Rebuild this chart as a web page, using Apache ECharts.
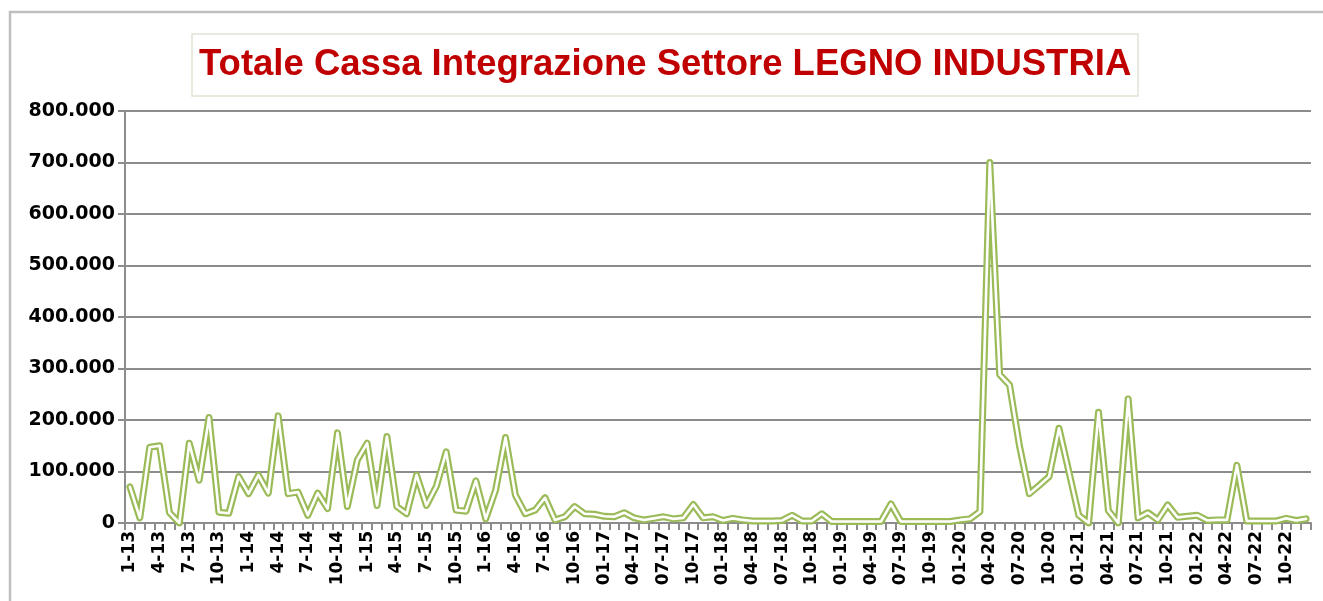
<!DOCTYPE html>
<html>
<head>
<meta charset="utf-8">
<script src="https://cdn.jsdelivr.net/npm/echarts@6/dist/echarts.min.js"></script>
<style>
html,body{margin:0;padding:0;background:#fff;}
#chart{width:1323px;height:601px;}
</style>
</head>
<body>
<div id="chart"></div>
<script>
const titleText = 'Totale Cassa Integrazione Settore LEGNO INDUSTRIA';

const categories = [
  '1-13','2-13','3-13','4-13','5-13','6-13','7-13','8-13','9-13','10-13','11-13','12-13',
  '1-14','2-14','3-14','4-14','5-14','6-14','7-14','8-14','9-14','10-14','11-14','12-14',
  '1-15','2-15','3-15','4-15','5-15','6-15','7-15','8-15','9-15','10-15','11-15','12-15',
  '1-16','2-16','3-16','4-16','5-16','6-16','7-16','8-16','9-16','10-16','11-16','12-16',
  '01-17','02-17','03-17','04-17','05-17','06-17','07-17','08-17','09-17','10-17','11-17','12-17',
  '01-18','02-18','03-18','04-18','05-18','06-18','07-18','08-18','09-18','10-18','11-18','12-18',
  '01-19','02-19','03-19','04-19','05-19','06-19','07-19','08-19','09-19','10-19','11-19','12-19',
  '01-20','02-20','03-20','04-20','05-20','06-20','07-20','08-20','09-20','10-20','11-20','12-20',
  '01-21','02-21','03-21','04-21','05-21','06-21','07-21','08-21','09-21','10-21','11-21','12-21',
  '01-22','02-22','03-22','04-22','05-22','06-22','07-22','08-22','09-22','10-22','11-22','12-22'
];

const values = [
  70000, 10000, 147000, 150000, 20000, 0, 155000, 83000, 205000, 21000, 19000, 90000,
  57000, 93000, 58000, 208000, 57000, 60000, 15000, 58000, 28000, 175000, 32000, 122000,
  155000, 34000, 168000, 32000, 18000, 93000, 34000, 71000, 138000, 25000, 23000, 82000,
  8000, 64000, 166000, 54000, 18000, 25000, 49000, 6000, 12000, 32000, 18000, 17000,
  13000, 12000, 20000, 10000, 6000, 9000, 12000, 8000, 10000, 36000, 10000, 12000,
  5000, 9000, 6000, 4000, 4000, 4000, 5000, 15000, 4000, 4000, 18000, 3000,
  3000, 3000, 3000, 3000, 3000, 37000, 3000, 3000, 3000, 3000, 3000, 3000,
  6000, 8000, 22000, 700000, 288000, 268000, 150000, 57000, 73000, 90000, 184000, 100000,
  15000, 0, 215000, 24000, 0, 241000, 10000, 20000, 6000, 35000, 11000, 13000,
  15000, 5000, 6000, 6000, 112000, 4000, 4000, 4000, 4000, 9000, 5000, 8000
];

const yMin = 0, yMax = 800000, yStep = 100000;

function fmtThousands(v) {
  return String(v).replace(/\B(?=(\d{3})+(?!\d))/g, '.');
}

const chart = echarts.init(document.getElementById('chart'));
chart.setOption({
  animation: false,
  backgroundColor: '#ffffff',
  graphic: [{
    type: 'rect', z: -10, silent: true,
    shape: { x: 10, y: 12, width: 1400, height: 700 },
    style: { fill: 'none', stroke: '#bfbfbf', lineWidth: 2.5 }
  }],
  title: {
    text: titleText,
    left: 192, top: 34,
    padding: [8, 7],
    borderColor: '#e2e2d6', borderWidth: 1.5,
    backgroundColor: '#ffffff',
    textStyle: {
      fontFamily: 'Liberation Sans', fontWeight: 'bold', fontSize: 36.5,
      color: '#C00000', lineHeight: 46
    }
  },
  grid: { left: 125, right: 12, top: 111, bottom: 78, containLabel: false },
  xAxis: {
    type: 'category',
    data: categories,
    boundaryGap: true,
    axisLine: { show: true, lineStyle: { color: '#8c8c8c', width: 2 } },
    axisTick: { show: true, interval: 0, length: 7, lineStyle: { color: '#8c8c8c', width: 2 } },
    axisLabel: {
      interval: 2, rotate: 90, margin: 8,
      fontFamily: 'DejaVu Sans', fontWeight: 'bold', fontSize: 17, color: '#000'
    },
    splitLine: { show: false }
  },
  yAxis: {
    type: 'value',
    min: yMin, max: yMax, interval: yStep,
    axisLine: { show: true, lineStyle: { color: '#8c8c8c', width: 2 } },
    axisTick: { show: true, length: 7, lineStyle: { color: '#8c8c8c', width: 2 } },
    axisLabel: {
      margin: 10, formatter: fmtThousands,
      fontFamily: 'DejaVu Sans', fontWeight: 'bold', fontSize: 19, color: '#000'
    },
    splitLine: { show: true, lineStyle: { color: '#8c8c8c', width: 2 } }
  },
  series: [
    {
      type: 'line', data: values, symbol: 'none', z: 3,
      lineStyle: { color: '#9BBB59', width: 7, join: 'round', cap: 'round' }
    },
    {
      type: 'line', data: values, symbol: 'none', z: 4,
      lineStyle: { color: '#ffffff', width: 2.6, join: 'round', cap: 'round' }
    }
  ]
});
</script>
</body>
</html>
